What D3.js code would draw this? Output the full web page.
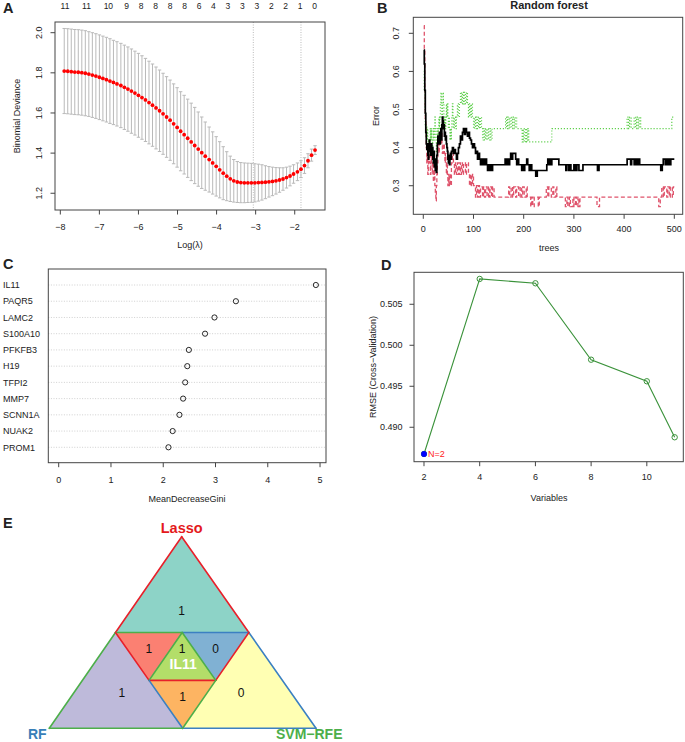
<!DOCTYPE html>
<html><head><meta charset="utf-8">
<script src="https://cdn.jsdelivr.net/npm/d3@7"></script>
<style>
body{margin:0;background:#fff}
svg text{font-family:"Liberation Sans",Arial,Helvetica,sans-serif;fill:#222}
</style>
</head><body>
<svg id="c" width="685" height="742"></svg>
<script>
// ---------------- DATA ----------------
// Panel A: Lasso cross-validation
const logLambda = [-7.90,-7.81,-7.72,-7.63,-7.54,-7.45,-7.36,-7.27,-7.18,-7.09,-7.00,
 -6.91,-6.82,-6.73,-6.64,-6.55,-6.45,-6.36,-6.27,-6.18,-6.09,-6.00,
 -5.91,-5.82,-5.73,-5.64,-5.55,-5.46,-5.37,-5.28,-5.19,-5.10,-5.01,
 -4.92,-4.83,-4.74,-4.65,-4.56,-4.47,-4.38,-4.29,-4.19,-4.10,-4.01,
 -3.92,-3.83,-3.74,-3.65,-3.56,-3.47,-3.38,-3.29,-3.20,-3.11,-3.02,
 -2.93,-2.84,-2.75,-2.66,-2.57,-2.48,-2.39,-2.30,-2.21,-2.12,-2.03,
 -1.93,-1.84,-1.75,-1.66,-1.57,-1.48];
const cvMean = [1.809,1.808,1.806,1.804,1.803,1.801,1.798,1.794,1.789,1.784,1.778,
 1.772,1.766,1.759,1.752,1.745,1.737,1.728,1.719,1.709,1.699,1.688,
 1.677,1.665,1.652,1.639,1.625,1.611,1.596,1.580,1.564,1.546,1.528,
 1.509,1.492,1.474,1.456,1.438,1.420,1.402,1.385,1.368,1.351,1.334,
 1.317,1.300,1.285,1.272,1.262,1.256,1.253,1.252,1.252,1.252,1.252,
 1.253,1.254,1.255,1.257,1.259,1.262,1.266,1.271,1.278,1.286,1.296,
 1.307,1.320,1.338,1.362,1.390,1.415];
const cvSd = [0.212,0.212,0.212,0.212,0.212,0.212,0.212,0.211,0.211,0.211,0.211,
 0.211,0.211,0.211,0.210,0.210,0.210,0.210,0.210,0.210,0.209,0.209,
 0.208,0.207,0.206,0.205,0.204,0.203,0.202,0.201,0.200,0.199,0.198,
 0.197,0.196,0.195,0.193,0.190,0.185,0.178,0.170,0.162,0.155,0.148,
 0.140,0.132,0.122,0.113,0.106,0.102,0.100,0.099,0.098,0.097,0.095,
 0.092,0.088,0.082,0.076,0.071,0.066,0.061,0.056,0.052,0.049,0.046,
 0.044,0.042,0.039,0.035,0.030,0.022];
const lambdaLines = [-3.06, -1.84];
const nzeroPos = [-7.88,-7.33,-6.77,-6.30,-5.93,-5.56,-5.19,-4.82,-4.45,-4.08,-3.71,-3.34,-2.97,-2.60,-2.23,-1.86,-1.49];
const nzeroLab = ["11","11","10","9","8","8","8","8","6","4","3","3","3","2","2","1","0"];
const xTicksA = [-8,-7,-6,-5,-4,-3,-2];
const yTicksA = [1.2,1.4,1.6,1.8,2.0];

// Panel B: random forest error vs trees (step changes: [tree, error])
const oobSteps = [[1,0.656],[2,0.62],[3,0.55],[4,0.49],[5,0.44],[6,0.41],[7,0.395],[8,0.41],[9,0.38],[10,0.37],[11,0.41],[12,0.42],[13,0.39],[14,0.40],[15,0.38],[16,0.41],[17,0.39],[18,0.40],[19,0.37],[20,0.36],[21,0.39],[22,0.35],[23,0.37],[24,0.34],[25,0.36],[26,0.335],[27,0.38],[28,0.41],[29,0.43],[30,0.41],[31,0.42],[32,0.44],[33,0.41],[34,0.43],[35,0.45],[36,0.42],[37,0.46],[38,0.48],[39,0.47],[40,0.45],[41,0.46],[42,0.43],[43,0.44],[44,0.42],[45,0.43],[46,0.41],[47,0.40],[48,0.39],[49,0.37],[50,0.36],[51,0.38],[52,0.355],[53,0.37],[54,0.385],[55,0.37],[56,0.39],[58,0.40],[60,0.385],[62,0.395],[64,0.385],[66,0.37],[68,0.385],[70,0.40],[72,0.41],[74,0.43],[76,0.42],[78,0.44],[80,0.45],[82,0.435],[84,0.45],[86,0.44],[88,0.43],[90,0.44],[92,0.425],[94,0.42],[96,0.41],[98,0.40],[100,0.41],[102,0.40],[104,0.385],[106,0.39],[108,0.37],[110,0.385],[112,0.37],[114,0.355],[116,0.37],[118,0.355],[120,0.37],[122,0.355],[124,0.37],[126,0.355],[128,0.34],[130,0.355],[132,0.34],[134,0.355],[136,0.34],[138,0.355],
 [163,0.37],[165,0.355],[167,0.37],[170,0.355],[172,0.37],[174,0.385],[177,0.37],[178,0.385],[184,0.37],[186,0.355],[188,0.37],[190,0.355],[196,0.34],[198,0.355],[200,0.34],[202,0.355],[206,0.37],[208,0.355],[211,0.34],[213,0.355],[216,0.34],[224,0.325],[227,0.34],[246,0.355],[248,0.37],[250,0.355],[252,0.37],[254,0.355],[256,0.37],[270,0.355],[284,0.34],[286,0.355],[290,0.34],[292,0.355],[294,0.34],[300,0.355],[303,0.34],[306,0.355],[310,0.34],[318,0.355],[347,0.34],[350,0.355],[406,0.37],[413,0.355],[415,0.37],[420,0.355],[423,0.37],[425,0.355],[428,0.37],[431,0.355],[473,0.34],[476,0.355],[478,0.37],[482,0.355],[484,0.37],[487,0.355],[489,0.37],[491,0.355],[493,0.37]];
const class1Steps = [[1,0.72],[2,0.66],[3,0.55],[4,0.47],[5,0.44],[6,0.40],[7,0.36],[8,0.385],[9,0.33],[10,0.36],[11,0.39],[12,0.41],[13,0.36],[14,0.33],[15,0.36],[16,0.385],[17,0.36],[18,0.33],[19,0.36],[20,0.31],[21,0.33],[22,0.36],[23,0.30],[24,0.28],[25,0.26],[26,0.30],[27,0.33],[28,0.36],[29,0.385],[30,0.41],[31,0.385],[32,0.41],[33,0.44],[34,0.41],[35,0.42],[36,0.44],[37,0.41],[38,0.385],[39,0.41],[40,0.385],[41,0.41],[42,0.385],[43,0.36],[44,0.385],[45,0.36],[46,0.33],[47,0.36],[48,0.33],[49,0.30],[50,0.33],[51,0.30],[52,0.33],[54,0.30],[56,0.36],[58,0.385],[60,0.36],[62,0.33],[64,0.36],[66,0.33],[68,0.36],[70,0.33],[72,0.36],[74,0.33],[76,0.36],[78,0.33],[80,0.355],[82,0.36],[84,0.33],[86,0.355],[88,0.36],[90,0.33],[92,0.30],[94,0.33],[96,0.30],[98,0.33],[100,0.30],[104,0.27],[106,0.30],[108,0.27],[110,0.30],[112,0.27],[114,0.297],[118,0.27],[120,0.297],[122,0.27],[124,0.297],[127,0.27],[130,0.297],[132,0.27],[133,0.297],[136,0.27],[138,0.297],[141,0.27],
 [170,0.297],[172,0.27],[175,0.297],[178,0.27],[180,0.297],[184,0.27],[186,0.297],[190,0.27],[193,0.297],[196,0.27],[198,0.297],[201,0.27],[205,0.297],[207,0.27],[214,0.245],[216,0.27],[218,0.245],[221,0.27],[229,0.245],[231,0.27],[245,0.297],[248,0.27],[250,0.297],[255,0.27],[258,0.297],[260,0.27],[264,0.297],[266,0.27],[283,0.245],[286,0.27],[288,0.245],[291,0.27],[293,0.245],[298,0.27],[300,0.245],[303,0.27],[305,0.245],[308,0.27],[310,0.245],[312,0.27],[346,0.245],[351,0.27],[469,0.245],[472,0.27],[475,0.297],[478,0.27],[480,0.297],[485,0.27],[487,0.297],[490,0.27],[492,0.297],[496,0.27],[498,0.297]];
const class2Steps = [[1,0.60],[2,0.55],[3,0.50],[4,0.46],[5,0.43],[6,0.46],[7,0.42],[8,0.45],[9,0.42],[10,0.39],[11,0.42],[12,0.39],[13,0.42],[14,0.45],[15,0.42],[16,0.45],[17,0.42],[18,0.39],[19,0.42],[20,0.45],[21,0.42],[22,0.45],[23,0.48],[24,0.45],[25,0.42],[26,0.39],[27,0.42],[28,0.45],[29,0.42],[30,0.45],[31,0.48],[32,0.45],[33,0.48],[34,0.515],[35,0.545],[36,0.515],[37,0.48],[38,0.515],[39,0.545],[40,0.515],[41,0.48],[42,0.45],[43,0.48],[44,0.45],[45,0.48],[46,0.515],[47,0.48],[48,0.515],[49,0.48],[50,0.45],[51,0.48],[52,0.45],[53,0.42],[54,0.45],[55,0.42],[56,0.45],[57,0.48],[58,0.515],[59,0.48],[60,0.45],[62,0.48],[64,0.45],[66,0.48],[68,0.515],[70,0.48],[72,0.515],[74,0.545],[76,0.515],[78,0.545],[80,0.515],[82,0.545],[84,0.515],[86,0.545],[88,0.515],[90,0.48],[92,0.515],[94,0.48],[96,0.515],[98,0.48],[100,0.45],[102,0.48],[104,0.45],[106,0.48],[108,0.45],[110,0.48],[112,0.45],[114,0.48],[116,0.45],[118,0.42],[120,0.45],[122,0.42],[124,0.45],[126,0.42],[128,0.45],[130,0.42],[133,0.45],[135,0.42],[137,0.45],
 [164,0.48],[166,0.45],[168,0.48],[171,0.45],[173,0.48],[176,0.45],[178,0.48],[181,0.45],[183,0.48],[186,0.45],[197,0.415],[199,0.45],[201,0.415],[204,0.45],[206,0.415],[208,0.45],[210,0.415],[256,0.45],[406,0.48],[409,0.45],[411,0.48],[414,0.45],[420,0.48],[423,0.45],[425,0.48],[428,0.45],[430,0.48],[433,0.45],[495,0.48]];
const nTrees = 500;
const xTicksB = [0,100,200,300,400,500];
const yTicksB = [0.3,0.4,0.5,0.6,0.7];

// Panel C: variable importance
const genes = ["IL11","PAQR5","LAMC2","S100A10","PFKFB3","H19","TFPI2","MMP7","SCNN1A","NUAK2","PROM1"];
const gini = [4.92,3.39,2.98,2.80,2.49,2.46,2.42,2.38,2.31,2.18,2.10];
const xTicksC = [0,1,2,3,4,5];

// Panel D: SVM-RFE
const nVars = [2,4,6,8,10,11];
const rmse = [0.48674,0.50809,0.50756,0.49824,0.49561,0.48878];
const bestN = 2;
const xTicksD = [2,4,6,8,10];
const yTicksD = [0.490,0.495,0.500,0.505];

// Panel E: Venn counts
const vennSets = ["Lasso","RF","SVM\u2212RFE"];
const vennRegionNames = ["Lasso only","Lasso & RF","Lasso & SVM","All","RF only","RF & SVM","SVM only"];
const vennCounts = [1,1,0,1,1,1,0];
const commonGene = "IL11";

// ---------------- DRAW ----------------
const svg = d3.select("#c");
svg.append("rect").attr("width",685).attr("height",742).attr("fill","#fff");
const AX = "#444";

function panelLabel(t,x,y){
  svg.append("text").attr("x",x).attr("y",y).attr("font-size",14.5).attr("font-weight","bold").attr("fill","#000").text(t);
}
function box(x0,y0,x1,y1){
  svg.append("rect").attr("x",x0).attr("y",y0).attr("width",x1-x0).attr("height",y1-y0)
    .attr("fill","none").attr("stroke",AX).attr("stroke-width",1);
}
function xAxis(scale, ticks, yEdge, base, fmt){
  const g = svg.append("g");
  ticks.forEach(t=>{
    g.append("line").attr("x1",scale(t)).attr("x2",scale(t)).attr("y1",yEdge).attr("y2",yEdge+4.5).attr("stroke",AX);
    g.append("text").attr("x",scale(t)).attr("y",base).attr("text-anchor","middle").attr("font-size",9).text(fmt(t));
  });
}
function yAxisRot(scale, ticks, xEdge, base, fmt){
  const g = svg.append("g");
  ticks.forEach(t=>{
    g.append("line").attr("x1",xEdge-4.5).attr("x2",xEdge).attr("y1",scale(t)).attr("y2",scale(t)).attr("stroke",AX);
    g.append("text").attr("transform",`translate(${base},${scale(t)}) rotate(-90)`).attr("text-anchor","middle").attr("font-size",9).text(fmt(t));
  });
}
function rotLabel(t,x,y,fs=9){
  svg.append("text").attr("transform",`translate(${x},${y}) rotate(-90)`).attr("text-anchor","middle").attr("font-size",fs).text(t);
}
const minus = s => s.replace("-","\u2212");

// ===== Panel A =====
(function(){
  const x = d3.scaleLinear().domain([-8.136,-1.225]).range([55,325]);
  const y = d3.scaleLinear().domain([1.1166,2.0533]).range([210,22]);
  const g = svg.append("g");
  lambdaLines.forEach(l=>{
    g.append("line").attr("x1",x(l)).attr("x2",x(l)).attr("y1",22).attr("y2",210)
     .attr("stroke","#a8a8a8").attr("stroke-width",0.8).attr("stroke-dasharray","1,1.5");
  });
  const data = logLambda.map((l,i)=>({l, m:cvMean[i], s:cvSd[i]}));
  const eb = g.append("g").attr("stroke","#b9b9b9").attr("stroke-width",1);
  data.forEach(d=>{
    const xx = x(d.l), yu = y(d.m+d.s), yl = y(d.m-d.s);
    eb.append("line").attr("x1",xx).attr("x2",xx).attr("y1",yu).attr("y2",yl);
    eb.append("line").attr("x1",xx-1.7).attr("x2",xx+1.7).attr("y1",yu).attr("y2",yu);
    eb.append("line").attr("x1",xx-1.7).attr("x2",xx+1.7).attr("y1",yl).attr("y2",yl);
  });
  g.selectAll("circle.d").data(data).join("circle").attr("class","d")
    .attr("cx",d=>x(d.l)).attr("cy",d=>y(d.m)).attr("r",1.9).attr("fill","#ff0000");
  box(55,22,325,210);
  xAxis(x, xTicksA, 210, 229.5, t=>minus(String(t)));
  yAxisRot(y, yTicksA, 55, 41.5, d3.format(".1f"));
  nzeroPos.forEach((p,i)=>{
    svg.append("text").attr("x",x(p)).attr("y",9).attr("text-anchor","middle").attr("font-size",8.5).text(nzeroLab[i]);
  });
  svg.append("text").attr("x",190).attr("y",248).attr("text-anchor","middle").attr("font-size",9).text("Log(\u03bb)");
  rotLabel("Binomial Deviance",19.5,116);
  panelLabel("A",3,13);
})();

// ===== Panel B =====
(function(){
  const x = d3.scaleLinear().domain([-19.9,516.7]).range([413.3,682.7]);
  const y = d3.scaleLinear().domain([0.225,0.742]).range([214.3,17.3]);
  const g = svg.append("g");
  const line = d3.line().x(d=>x(d[0])).y(d=>y(d[1])).curve(d3.curveStepAfter);
  const ext = s => s.concat([[nTrees, s[s.length-1][1]]]);
  g.append("path").attr("d",line(ext(class2Steps))).attr("fill","none").attr("stroke","#61D04F").attr("stroke-width",1.2).attr("stroke-dasharray","1.2,1.8");
  g.append("path").attr("d",line(ext(class1Steps))).attr("fill","none").attr("stroke","#DF536B").attr("stroke-width",1.3).attr("stroke-dasharray","4,2.5");
  g.append("path").attr("d",line(ext(oobSteps))).attr("fill","none").attr("stroke","#000").attr("stroke-width",1.7);
  box(413.3,17.3,682.7,214.3);
  xAxis(x, xTicksB, 214.3, 232, t=>String(t));
  yAxisRot(y, yTicksB, 413.3, 399, d3.format(".1f"));
  svg.append("text").attr("x",549).attr("y",9).attr("text-anchor","middle").attr("font-size",11).attr("font-weight","bold").attr("fill","#000").text("Random forest");
  svg.append("text").attr("x",549).attr("y",251).attr("text-anchor","middle").attr("font-size",9).text("trees");
  rotLabel("Error",378.5,116);
  panelLabel("B",377,13);
})();

// ===== Panel C =====
(function(){
  const x = d3.scaleLinear().domain([-0.199,5.114]).range([48.3,326]);
  const y = d3.scalePoint().domain(genes).range([285,447.3]);
  const g = svg.append("g");
  genes.forEach((gn,i)=>{
    g.append("line").attr("x1",48.3).attr("x2",326).attr("y1",y(gn)).attr("y2",y(gn))
      .attr("stroke","#c4c4c4").attr("stroke-width",0.8).attr("stroke-dasharray","1,1.6");
    svg.append("text").attr("x",3).attr("y",y(gn)+3.2).attr("font-size",9).text(gn);
  });
  g.selectAll("circle").data(genes).join("circle")
    .attr("cx",(d,i)=>x(gini[i])).attr("cy",d=>y(d)).attr("r",2.6)
    .attr("fill","none").attr("stroke","#111").attr("stroke-width",0.9);
  box(48.3,269,326,462.7);
  xAxis(x, xTicksC, 462.7, 482.5, t=>String(t));
  svg.append("text").attr("x",187).attr("y",502).attr("text-anchor","middle").attr("font-size",9).text("MeanDecreaseGini");
  panelLabel("C",3,269);
})();

// ===== Panel D =====
(function(){
  const x = d3.scaleLinear().domain([1.641,11.31]).range([414,683.3]);
  const y = d3.scaleLinear().domain([0.48580,0.50890]).range([461.7,272.3]);
  const g = svg.append("g");
  const pts = nVars.map((v,i)=>[v,rmse[i]]);
  const col = "#3a923a";
  g.append("path").attr("d",d3.line().x(d=>x(d[0])).y(d=>y(d[1]))(pts)).attr("fill","none").attr("stroke",col).attr("stroke-width",1.1);
  g.selectAll("circle.p").data(pts).join("circle").attr("class","p")
    .attr("cx",d=>x(d[0])).attr("cy",d=>y(d[1])).attr("r",2.7)
    .attr("fill","none").attr("stroke",col).attr("stroke-width",1);
  const bi = nVars.indexOf(bestN);
  g.append("circle").attr("cx",x(bestN)).attr("cy",y(rmse[bi])).attr("r",2.9).attr("fill","#0000ff");
  g.append("text").attr("x",x(bestN)+4).attr("y",y(rmse[bi])+3.3).attr("font-size",9).style("fill","#ff2020").text("N="+bestN);
  box(414,272.3,683.3,461.7);
  xAxis(x, xTicksD, 461.7, 480, t=>String(t));
  yTicksD.forEach(t=>{
    svg.append("line").attr("x1",409.5).attr("x2",414).attr("y1",y(t)).attr("y2",y(t)).attr("stroke",AX);
    svg.append("text").attr("x",402.5).attr("y",y(t)+3.2).attr("text-anchor","end").attr("font-size",9).text(d3.format(".3f")(t));
  });
  svg.append("text").attr("x",549).attr("y",501).attr("text-anchor","middle").attr("font-size",9).text("Variables");
  rotLabel("RMSE (Cross\u2212Validation)",375.5,367);
  panelLabel("D",381,270);
})();

// ===== Panel E =====
(function(){
  const top=[181.7,536.7], bl=[49.3,728.3], br=[316,728.3];
  const mid=(a,b)=>[(a[0]+b[0])/2,(a[1]+b[1])/2];
  const L=mid(top,bl), R=mid(top,br), B=mid(bl,br);
  const LR=mid(L,R), LB=mid(L,B), RB=mid(R,B);
  const regions = [
    {pts:[top,L,R], fill:"#8DD3C7"},
    {pts:[L,LR,LB], fill:"#FB8072"},
    {pts:[R,LR,RB], fill:"#80B1D3"},
    {pts:[LR,LB,RB], fill:"#B3DE69"},
    {pts:[L,bl,B], fill:"#BEBADA"},
    {pts:[LB,RB,B], fill:"#FDB462"},
    {pts:[R,B,br], fill:"#FFFFB3"}
  ];
  const g = svg.append("g");
  regions.forEach(r=>g.append("polygon").attr("points",r.pts.map(p=>p.join(",")).join(" ")).attr("fill",r.fill));
  const RED="#e8202a", GRN="#4DAF4A", BLU="#3b80c2";
  const edges = [
    [top,L,RED],[top,R,RED],[L,LR,GRN],[LR,R,BLU],[L,bl,GRN],[bl,B,GRN],[B,br,BLU],[br,R,BLU],
    [L,LB,RED],[LB,RB,RED],[RB,R,RED],[LR,LB,GRN],[LR,RB,GRN],[LB,B,BLU],[RB,B,GRN]
  ];
  edges.forEach(e=>g.append("line").attr("x1",e[0][0]).attr("y1",e[0][1]).attr("x2",e[1][0]).attr("y2",e[1][1])
     .attr("stroke",e[2]).attr("stroke-width",1.6).attr("stroke-linecap","round"));
  const cen = ps=>[d3.mean(ps,p=>p[0]), d3.mean(ps,p=>p[1])];
  const lab = [
    [top[0], top[1]+0.77*(L[1]-top[1])],
    cen([L,LR,LB]),
    cen([R,LR,RB]),
    [LR[0], cen([L,LR,LB])[1]],
    [cen([L,bl,B])[0]+6, cen([L,bl,B])[1]-4],
    cen([LB,RB,B]),
    [cen([R,B,br])[0]-8, cen([R,B,br])[1]-4]
  ];
  vennCounts.forEach((c,i)=>{
    g.append("text").attr("x",lab[i][0]).attr("y",lab[i][1]+4.2).attr("text-anchor","middle").attr("font-size",12).style("fill","#111").text(c);
  });
  g.append("text").attr("x",LR[0]+1).attr("y",(LB[1]+LR[1])/2+13).attr("text-anchor","middle").attr("font-size",14).attr("font-weight","bold").style("fill","#fff").text(commonGene);
  svg.append("text").attr("x",top[0]).attr("y",533).attr("text-anchor","middle").attr("font-size",14.5).attr("font-weight","bold").style("fill","#e41a1c").text(vennSets[0]);
  svg.append("text").attr("x",28).attr("y",739).attr("font-size",14).attr("font-weight","bold").style("fill","#377EB8").text(vennSets[1]);
  svg.append("text").attr("x",276).attr("y",739).attr("font-size",14).attr("font-weight","bold").style("fill","#4DAF4A").text(vennSets[2]);
  panelLabel("E",3,528);
})();
</script>
</body></html>
